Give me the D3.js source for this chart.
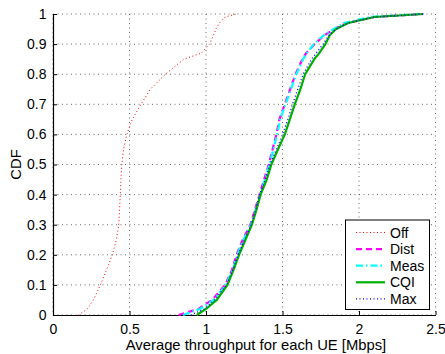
<!DOCTYPE html>
<html>
<head>
<meta charset="utf-8">
<script src="https://cdn.jsdelivr.net/npm/d3@7"></script>
<style>
  html, body { margin: 0; padding: 0; background: #fff; }
  svg { display: block; }
  text { font-family: "Liberation Sans", Arial, sans-serif; }
</style>
</head>
<body>
<svg id="chart" width="445" height="354"></svg>
<script>
// CDF levels shared by all series
const cdfLevels = [0, 0.02, 0.05, 0.1, 0.15, 0.2, 0.25, 0.3, 0.35, 0.4, 0.45, 0.5, 0.55, 0.6, 0.65, 0.7, 0.75, 0.8, 0.85, 0.87, 0.9, 0.93, 0.95, 0.97, 0.99, 1];

// Throughput (Mbps) at each CDF level, per series
const offValues  = [0.166, 0.225, 0.264, 0.31, 0.35, 0.388, 0.414, 0.43, 0.435, 0.44, 0.444, 0.45, 0.461, 0.482, 0.518, 0.575, 0.636, 0.735, 0.855, 0.97, 1.022, 1.05, 1.065, 1.088, 1.124, 1.2];
const distValues = [0.82, 0.95, 1.04, 1.125, 1.17, 1.2, 1.24, 1.29, 1.32, 1.35, 1.38, 1.41, 1.435, 1.46, 1.48, 1.515, 1.55, 1.585, 1.63, 1.655, 1.71, 1.775, 1.84, 1.92, 2.1, 2.42];
const measValues = [0.85, 0.96, 1.05, 1.13, 1.175, 1.205, 1.245, 1.295, 1.325, 1.355, 1.385, 1.415, 1.44, 1.465, 1.485, 1.52, 1.555, 1.59, 1.635, 1.658, 1.705, 1.77, 1.835, 1.9, 2.07, 2.4];
const cqiValues  = [0.94, 1.0, 1.07, 1.14, 1.18, 1.216, 1.258, 1.3, 1.33, 1.357, 1.397, 1.427, 1.47, 1.515, 1.548, 1.58, 1.617, 1.648, 1.708, 1.74, 1.78, 1.81, 1.85, 1.93, 2.1, 2.42];
const maxValues  = [0.9, 0.99, 1.055, 1.135, 1.175, 1.21, 1.252, 1.295, 1.325, 1.35, 1.388, 1.418, 1.46, 1.5, 1.535, 1.565, 1.6, 1.635, 1.69, 1.72, 1.765, 1.805, 1.85, 1.93, 2.1, 2.42];

const seriesNames = ["Off", "Dist", "Meas", "CQI", "Max"];
const xTicks = [0, 0.5, 1, 1.5, 2, 2.5];
const yTicks = [0, 0.1, 0.2, 0.3, 0.4, 0.5, 0.6, 0.7, 0.8, 0.9, 1];
const xLabel = "Average throughput for each UE [Mbps]";
const yLabel = "CDF";

const styles = {
  Off:  { color: "#ff0000", width: 1,   dash: "1,2.5" },
  Dist: { color: "#ff00ff", width: 2.2, dash: "6,4" },
  Meas: { color: "#00ffff", width: 2.2, dash: "7,3,1.5,3" },
  CQI:  { color: "#00b000", width: 2.2, dash: null },
  Max:  { color: "#0000ff", width: 1.3, dash: "1,2.5" }
};

const values = { Off: offValues, Dist: distValues, Meas: measValues, CQI: cqiValues, Max: maxValues };

const svg = d3.select("#chart");
const pLeft = 53, pRight = 435.5, pTop = 14, pBottom = 315;

const x = d3.scaleLinear().domain([0, 2.5]).range([pLeft, pRight]);
const y = d3.scaleLinear().domain([0, 1]).range([pBottom, pTop]);

// grid
const grid = svg.append("g");
grid.selectAll(".gx").data(xTicks).enter().append("line")
  .attr("x1", d => x(d)).attr("x2", d => x(d))
  .attr("y1", pTop).attr("y2", pBottom)
  .attr("stroke", "#444").attr("stroke-width", 0.8).attr("stroke-dasharray", "1,3.5");
grid.selectAll(".gy").data(yTicks).enter().append("line")
  .attr("x1", pLeft).attr("x2", pRight)
  .attr("y1", d => y(d)).attr("y2", d => y(d))
  .attr("stroke", "#444").attr("stroke-width", 0.8).attr("stroke-dasharray", "1,3.5");

// axes
const xAxis = d3.axisBottom(x).tickValues(xTicks).tickSizeInner(-4).tickSizeOuter(0).tickPadding(9)
  .tickFormat(d => String(d));
const yAxis = d3.axisLeft(y).tickValues(yTicks).tickSizeInner(-4).tickSizeOuter(0).tickPadding(6.5)
  .tickFormat(d => String(d));

const gx = svg.append("g").attr("transform", `translate(0,${pBottom})`).call(xAxis);
const gy = svg.append("g").attr("transform", `translate(${pLeft},0)`).call(yAxis);
[gx, gy].forEach(g => {
  g.select(".domain").attr("stroke", "#000").attr("stroke-width", 1.2);
  g.selectAll(".tick line").attr("stroke", "#000");
  g.selectAll(".tick text").attr("fill", "#000").style("font-size", "14px")
    .style("font-family", '"Liberation Sans", Arial, sans-serif');
});

// lines
const line = d3.line().x(d => x(d[0])).y(d => y(d[1]));
seriesNames.forEach(name => {
  const pts = values[name].map((v, i) => [v, cdfLevels[i]]);
  const st = styles[name];
  svg.append("path").datum(pts)
    .attr("d", line).attr("fill", "none")
    .attr("stroke", st.color).attr("stroke-width", st.width)
    .attr("stroke-dasharray", st.dash);
});

// labels
svg.append("text").attr("x", 256).attr("y", 350)
  .attr("text-anchor", "middle").style("font-size", "14.8px").text(xLabel);
svg.append("text").attr("transform", `translate(21,${(pTop + pBottom) / 2}) rotate(-90)`)
  .attr("text-anchor", "middle").style("font-size", "14.8px").text(yLabel);

// legend
const lg = svg.append("g");
lg.append("rect").attr("x", 345.5).attr("y", 220).attr("width", 84).attr("height", 89.5)
  .attr("fill", "#fff").attr("stroke", "#000").attr("stroke-width", 1);
seriesNames.forEach((name, i) => {
  const yy = 232.5 + i * 16.6;
  const st = styles[name];
  lg.append("line").attr("x1", 356).attr("x2", 385).attr("y1", yy).attr("y2", yy)
    .attr("stroke", st.color).attr("stroke-width", st.width).attr("stroke-dasharray", st.dash);
  lg.append("text").attr("x", 390).attr("y", yy + 5).style("font-size", "14px").text(name);
});
</script>
</body>
</html>
